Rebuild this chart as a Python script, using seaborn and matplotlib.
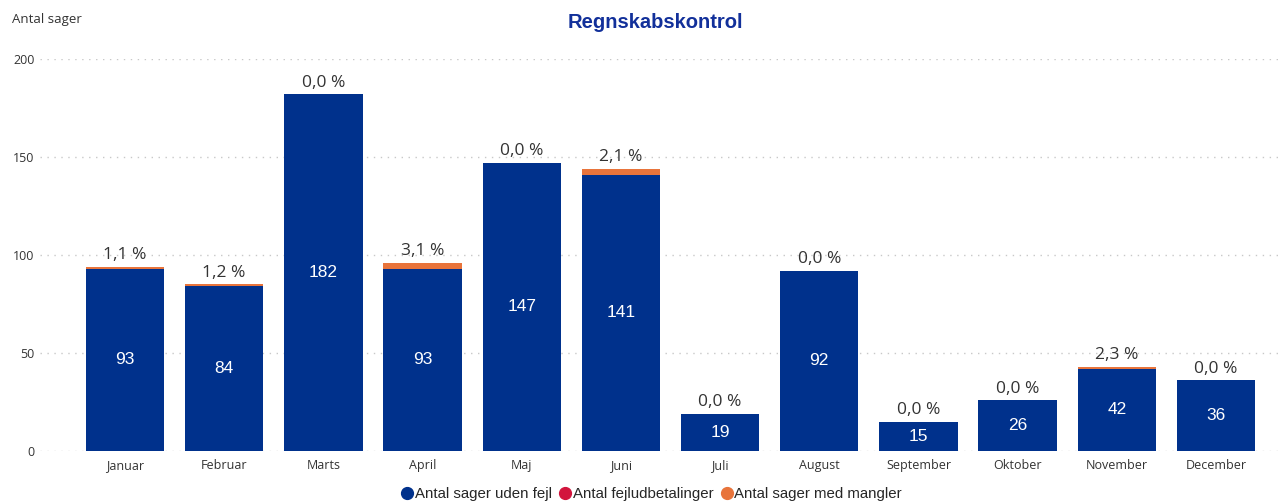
import matplotlib
matplotlib.use("Agg")
import matplotlib.pyplot as plt
from matplotlib.lines import Line2D
import seaborn as sns
import pandas as pd
import numpy as np

months = ["Januar", "Februar", "Marts", "April", "Maj", "Juni", "Juli",
          "August", "September", "Oktober", "November", "December"]
uden_fejl = [93, 84, 182, 93, 147, 141, 19, 92, 15, 26, 42, 36]
fejludbetalinger = [0, 0, 0, 0, 0, 0, 0, 0, 0, 0, 0, 0]
med_mangler = [1, 1, 0, 3, 0, 3, 0, 0, 0, 0, 1, 0]
yticks = [0, 50, 100, 150, 200]

BLUE = "#00318C"
RED = "#D2153D"
ORANGE = "#E8743B"

sns.set_theme(style="white")
plt.rcParams["font.family"] = ["Liberation Sans", "DejaVu Sans"]

df = pd.DataFrame({"month": months, "blue": uden_fejl,
                   "red": fejludbetalinger, "orange": med_mangler})
df["br"] = df["blue"] + df["red"]
df["total"] = df["br"] + df["orange"]

fig = plt.figure(figsize=(12.87, 5.03), dpi=100)
ax = fig.add_axes([40 / 1287, 1 - 451 / 503, 1240 / 1287, 392 / 503])

W = 0.79
for col, c in (("total", ORANGE), ("br", RED), ("blue", BLUE)):
    sns.barplot(data=df, x="month", y=col, color=c, width=W, ax=ax,
                saturation=1, order=months, errorbar=None, linewidth=0)

ax.set_xlim(-0.857, 11.645)
ax.set_ylim(0, 200)
ax.set_yticks(yticks)
ax.set_yticklabels([str(v) for v in yticks], fontsize=9, color="#333333",
                   family=["Open Sans", "DejaVu Sans"])
ax.tick_params(axis="y", length=0, pad=4)
ax.tick_params(axis="x", length=0, pad=6, labelsize=9, labelcolor="#333333")
for lbl in ax.get_xticklabels():
    lbl.set_family(["Open Sans", "DejaVu Sans"])
ax.set_xlabel("")
ax.set_ylabel("")
for s in ax.spines.values():
    s.set_visible(False)
for v in yticks:
    ax.axhline(v, color="#C8C8C8", lw=1, ls=(0, (1, 4)), zorder=0)

for i, row in df.iterrows():
    ax.text(i, row["blue"] / 2, f"{row['blue']}", ha="center", va="center",
            color="white", fontsize=12.5)
    pct = row["orange"] / row["total"] * 100 if row["total"] else 0
    ax.annotate(f"{pct:.1f} %".replace(".", ","), (i, row["total"]),
                xytext=(0, 2.5), textcoords="offset points", ha="center",
                va="bottom", fontsize=12.5, color="#333333",
                family=["Open Sans", "DejaVu Sans"], annotation_clip=False)

fig.text(12 / 1287, 1 - 20 / 503, "Antal sager", fontsize=9.5, color="#333333",
         va="center", ha="left", family=["Open Sans", "DejaVu Sans"])
fig.text(655 / 1287, 1 - 22 / 503, "Regnskabskontrol", fontsize=14.5,
         fontweight="bold", color="#12309A", ha="center", va="center")

handles = [Line2D([], [], marker="o", ls="", color=c, markersize=8.5)
           for c in (BLUE, RED, ORANGE)]
fig.legend(handles, ["Antal sager uden fejl", "Antal fejludbetalinger",
                     "Antal sager med mangler"],
           loc="center", bbox_to_anchor=(651 / 1287, 1 - 494 / 503), ncol=3,
           frameon=False, fontsize=10.8, handletextpad=0.0, columnspacing=0.4,
           handlelength=1.0, borderpad=0)

fig.savefig("out.png", dpi=100)
